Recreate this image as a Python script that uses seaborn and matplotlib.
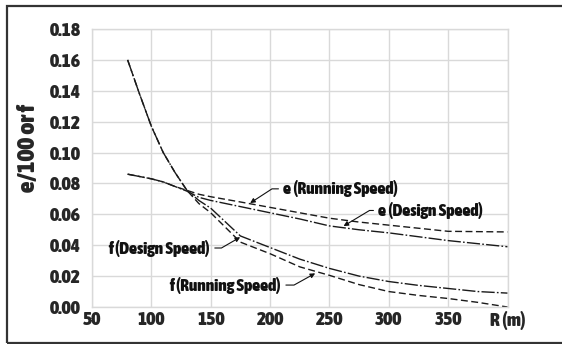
import numpy as np
import pandas as pd
import matplotlib
matplotlib.use("Agg")
import matplotlib.pyplot as plt
from matplotlib.patches import Rectangle
from matplotlib import font_manager as fm
import seaborn as sns

# ---- data ----
R = [80, 90, 100, 110, 120, 130, 140, 150, 175, 200, 225, 250, 275, 300, 325, 350, 375, 400]
f_design = [0.160, 0.138, 0.117, 0.100, 0.087, 0.0755, 0.069, 0.064, 0.046, 0.0385, 0.031, 0.025,
            0.020, 0.0165, 0.014, 0.012, 0.010, 0.009]
f_running = [0.160, 0.138, 0.117, 0.100, 0.087, 0.0755, 0.067, 0.061, 0.042, 0.0345, 0.026, 0.0205,
             0.0145, 0.010, 0.0075, 0.0055, 0.003, 0.000]
e_design = [0.086, 0.0845, 0.083, 0.081, 0.078, 0.075, 0.071, 0.069, 0.065, 0.061, 0.057, 0.0525,
            0.050, 0.048, 0.0455, 0.043, 0.041, 0.039]
e_running = [0.086, 0.0845, 0.083, 0.081, 0.078, 0.0755, 0.073, 0.0714, 0.068, 0.0645, 0.061, 0.0575,
             0.055, 0.053, 0.051, 0.049, 0.0488, 0.0486]

series_names = ["f (Design Speed)", "f (Running Speed)", "e (Design Speed)", "e (Running Speed)"]
x_ticks = [50, 100, 150, 200, 250, 300, 350, 400]
x_ticklabels = ["50", "100", "150", "200", "250", "300", "350", "R (m)"]
y_ticks = [0.00, 0.02, 0.04, 0.06, 0.08, 0.10, 0.12, 0.14, 0.16, 0.18]
y_label = "e/100 or f"

df = pd.concat([
    pd.DataFrame({"R": R, "v": f_design, "series": series_names[0]}),
    pd.DataFrame({"R": R, "v": f_running, "series": series_names[1]}),
    pd.DataFrame({"R": R, "v": e_design, "series": series_names[2]}),
    pd.DataFrame({"R": R, "v": e_running, "series": series_names[3]}),
], ignore_index=True)

sns.set_style("white")
plt.rcParams["font.family"] = ["DejaVu Sans"]


# ---- pick the heaviest narrow / condensed font that is installed ----
def find_condensed_bold():
    best = None
    for f in fm.fontManager.ttflist:
        name = f.name.lower()
        narrowish = ("narrow" in name or "condensed" in name or
                     str(f.stretch).lower() in ("condensed", "semi-condensed", "extra-condensed"))
        try:
            w = int(f.weight)
        except Exception:
            w = 700 if "bold" in str(f.weight).lower() else 400
        if narrowish and w >= 700 and "oblique" not in f.style and "italic" not in f.style:
            score = (w, 1 if "liberation" in name else 0)
            if best is None or score > best[0]:
                best = (score, f.fname)
    return best[1] if best else None


path = find_condensed_bold()
if path:
    FP = fm.FontProperties(fname=path)
else:
    FP = fm.FontProperties(family="DejaVu Sans", weight="bold")

W, H = 562, 344
fig = plt.figure(figsize=(W / 100, H / 100), dpi=100)
renderer = fig.canvas.get_renderer()


def fit_size(s, target_w, cap):
    t = fig.text(0, 0, s, fontproperties=FP, fontsize=10)
    w = t.get_window_extent(renderer=renderer).width
    t.remove()
    return min(cap, 10 * target_w / w)


tick_fs = fit_size("0.18", 39, 14)
label_fs = fit_size(y_label, 106, 18)
note_fs = fit_size("f (Design Speed)", 106, 12.5)

ax = fig.add_axes([92 / W, 1 - 307 / H, (507.5 - 92) / W, (307 - 29) / H])

dash_dot = (9.5, 1.6, 1.2, 1.6)
dashed = (5, 2.5)
dashes = {series_names[0]: dash_dot, series_names[1]: dashed,
          series_names[2]: dash_dot, series_names[3]: dashed}

sns.lineplot(data=df, x="R", y="v", style="series", dashes=dashes, color="#1a1a1a",
             linewidth=1.0, legend=False, ax=ax)

ax.set_xlim(50, 400)
ax.set_ylim(0, 0.18)
ax.set_xticks(x_ticks)
ax.set_xticklabels(x_ticklabels, fontproperties=FP, fontsize=tick_fs)
ax.set_yticks(y_ticks)
ax.set_yticklabels([f"{v:.2f}" for v in y_ticks], fontproperties=FP, fontsize=tick_fs)
ax.tick_params(axis="both", length=0)
ax.tick_params(axis="y", pad=8)
ax.tick_params(axis="x", pad=3)
ax.set_xlabel("")
ax.set_ylabel(y_label, fontproperties=FP, fontsize=label_fs)
ax.yaxis.set_label_coords((29 - 92) / 415.5, (307 - 148) / 278)
ax.yaxis.label.set_va("center")
ax.grid(True, color="#d9d9d9", linewidth=1.0)
for s in ax.spines.values():
    s.set_color("#d9d9d9")
    s.set_linewidth(1.0)


# annotations
def note(text, xy, xytext, ha, angleB):
    relpos = (0, 0.5) if ha == "left" else (1, 0.5)
    ax.annotate(text, xy=xy, xytext=xytext, ha=ha, va="center", fontproperties=FP,
                fontsize=note_fs, color="#111111",
                arrowprops=dict(arrowstyle="-|>", color="#111111", lw=0.8,
                                mutation_scale=7, shrinkA=1, shrinkB=0, relpos=relpos,
                                connectionstyle=f"angle,angleA=0,angleB={angleB},rad=0"))


note(series_names[3], (183.2, 0.0673), (211, 0.0765), "left", 33)
note(series_names[2], (261.9, 0.0524), (291, 0.0625), "left", 31)
note(series_names[0], (174.8, 0.0452), (149.5, 0.0382), "right", 30)
note(series_names[1], (238, 0.0218), (209.4, 0.0142), "right", 29)

# outer frame
fig.patches.append(Rectangle((7 / W, 1 - 343 / H), (W + 10) / W, (343 - 6) / H,
                             transform=fig.transFigure, fill=False,
                             edgecolor="#333333", linewidth=1.6, figure=fig))

fig.savefig("out.png", dpi=100)
